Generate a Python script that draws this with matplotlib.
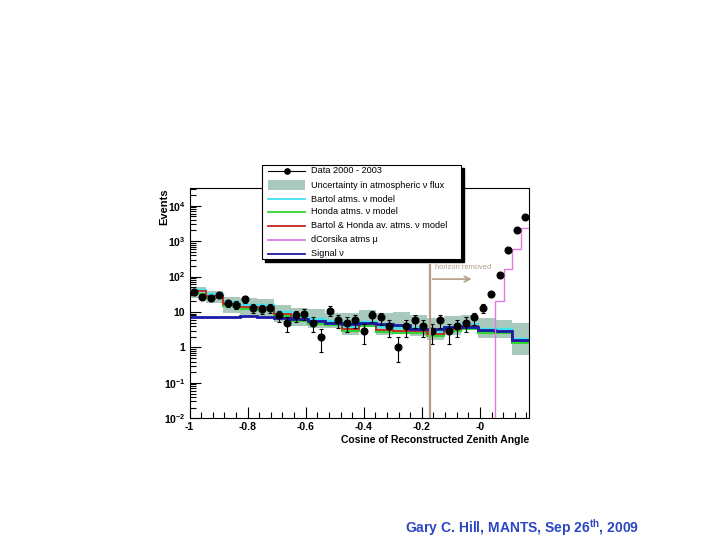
import numpy as np
import matplotlib
matplotlib.use("Agg")
import matplotlib.pyplot as plt
from matplotlib.patches import Rectangle
from matplotlib.lines import Line2D
from matplotlib.ticker import FixedLocator, FixedFormatter, LogLocator, MultipleLocator, NullFormatter

plt.rcParams["font.family"] = ["Liberation Sans", "DejaVu Sans"]
plt.rcParams["mathtext.fontset"] = "custom"
plt.rcParams["mathtext.rm"] = "Liberation Sans"
plt.rcParams["mathtext.bf"] = "Liberation Sans:bold"
plt.rcParams["mathtext.default"] = "bf"

# ---------------------------
# Data
# ---------------------------
X_MIN, X_MAX = -1.0, 0.17

# data: 40 bins in cos(zenith)
data_counts = [37, 27, 25, 30, 18, 16, 23, 13, 12, 13,
               8, 5, 8, 9, 5, 2, 11, 6, 5, 6,
               3, 8, 7, 4, 1, 4, 6, 4, 3, 6,
               3, 4, 5, 7, 13, 32, 112, 570, 2000, 4900]

# simulation: 20 bins
bartol_honda = [38, 28, 17, 14, 13.5, 9, 6.3, 5.4, 4.9, 3.3,
                4.6, 3.2, 3.0, 3.0, 2.45, 3.3, 3.9, 2.85, 2.85, 1.5]
bartol = [43, 32, 19.5, 16, 15.5, 10.3, 7.2, 6.2, 5.6, 3.8,
          5.3, 3.7, 3.5, 3.5, 2.8, 3.8, 4.5, 3.3, 3.3, 1.75]
honda = [33, 24.5, 14.8, 12.2, 11.7, 7.8, 5.5, 4.7, 4.2, 2.85,
         4.0, 2.75, 2.6, 2.6, 2.1, 2.85, 3.4, 2.5, 2.5, 1.3]
signal = [7.2, 7.2, 7.2, 7.7, 7.0, 6.9, 6.3, 5.4, 5.0, 4.6,
          4.8, 4.5, 4.2, 3.4, 3.3, 3.8, 3.8, 3.2, 3.0, 1.6]
band_lo = [25, 17.5, 9.5, 8, 7.7, 5.2, 4.0, 3.5, 3.5, 2.3,
           3.9, 2.3, 2.6, 2.05, 1.65, 2.3, 3.2, 1.85, 1.85, 0.63]
band_hi = [52, 39, 27, 25, 22.6, 15.3, 13, 12, 9.4, 9.4,
           11.6, 9.4, 9.7, 8.4, 6.8, 7.5, 8.4, 6.8, 6.05, 4.9]

# dCorsika muons: only the last four data bins are non-empty
corsika_mu = [0] * 36 + [21, 166, 606, 2400]

legend_labels = ["Data 2000 - 2003",
                 "Uncertainty in atmospheric ν flux",
                 "Bartol atms. ν model",
                 "Honda atms. ν model",
                 "Bartol & Honda av. atms. ν model",
                 "dCorsika atms μ",
                 "Signal ν"]

x_ticks = [-1, -0.8, -0.6, -0.4, -0.2, 0]
x_tick_labels = ["-1", "-0.8", "-0.6", "-0.4", "-0.2", "-0"]
y_ticks = [1e-2, 1e-1, 1, 10, 1e2, 1e3, 1e4]
y_tick_labels = ["$10^{-2}$", "$10^{-1}$", "1", "10", "$10^{2}$", "$10^{3}$", "$10^{4}$"]

HORIZON = -0.173

# colours
C_BAND = "#a9c9bc"
C_CYAN = "#3fe3f0"
C_GREEN = "#2fd62f"
C_RED = "#c0281e"
C_PINK = "#e27ae2"
C_BLUE = "#1a1aa6"
C_TAN = "#b59d85"

# ---------------------------
# Figure
# ---------------------------
W, H = 720, 540
fig = plt.figure(figsize=(7.2, 5.4), dpi=100)


def fx(x):
    return x / W


def fy(y):
    return 1 - y / H


ax = fig.add_axes([fx(189.5), fy(418.3), (529.3 - 189.5) / W, (418.3 - 188.3) / H])
ax.set_yscale("log")

d_edges = np.linspace(X_MIN, X_MAX, len(data_counts) + 1)
d_cent = 0.5 * (d_edges[:-1] + d_edges[1:])
m_edges = np.linspace(X_MIN, X_MAX, len(bartol_honda) + 1)

counts = np.array(data_counts, dtype=float)
err_hi = np.sqrt(counts)
err_lo = np.minimum(np.sqrt(counts), 0.62 * counts)

# uncertainty band
ax.stairs(band_hi, m_edges, baseline=band_lo, fill=True, color=C_BAND, lw=0, zorder=1)

ax.stairs(bartol, m_edges, baseline=None, color=C_CYAN, lw=1.7, zorder=2)
ax.stairs(honda, m_edges, baseline=None, color=C_GREEN, lw=1.5, zorder=2)
ax.stairs(bartol_honda, m_edges, baseline=None, color=C_RED, lw=1.3, zorder=3)
ax.stairs(signal, m_edges, baseline=None, color=C_BLUE, lw=2.0, zorder=3)

mu = np.array(corsika_mu, dtype=float)
mu = np.where(mu > 0, mu, 1e-6)
ax.stairs(mu, d_edges, baseline=None, color=C_PINK, lw=1.0, zorder=4)

ax.errorbar(d_cent, counts, yerr=[err_lo, err_hi], fmt="o", color="black",
            ms=4.8, elinewidth=0.8, capsize=1.5, capthick=0.8, zorder=5)

# horizon line and arrow
ax.plot([HORIZON, HORIZON], [1e-2, 215], color=C_TAN, lw=1.6, zorder=6)
ax.annotate("", xy=(-0.019, 85), xytext=(HORIZON, 85),
            arrowprops=dict(arrowstyle="->", color=C_TAN, lw=1.2), zorder=6)
ax.text(-0.155, 176, "horizon removed", color=C_TAN, fontsize=5.4, va="center")

ax.set_xlim(X_MIN, X_MAX)
ax.set_ylim(1e-2, 3.1e4)

ax.xaxis.set_major_locator(FixedLocator(x_ticks))
ax.xaxis.set_major_formatter(FixedFormatter(x_tick_labels))
ax.xaxis.set_minor_locator(MultipleLocator(0.04))
ax.yaxis.set_major_locator(FixedLocator(y_ticks))
ax.yaxis.set_major_formatter(FixedFormatter(y_tick_labels))
ax.yaxis.set_minor_locator(LogLocator(base=10, subs=np.arange(2, 10)))
ax.yaxis.set_minor_formatter(NullFormatter())

ax.tick_params(which="both", direction="in", top=False, right=False, width=0.8)
ax.tick_params(which="major", length=8, labelsize=7.5, pad=3)
ax.tick_params(which="minor", length=4)
for lab in ax.get_xticklabels() + ax.get_yticklabels():
    lab.set_fontweight("bold")

for sp in ax.spines.values():
    sp.set_linewidth(0.8)

ax.set_xlabel("Cosine of Reconstructed Zenith Angle", loc="right",
              fontsize=7.5, fontweight="bold", labelpad=2)
ax.set_ylabel("Events", loc="top", fontsize=8, fontweight="bold", labelpad=-4)

# ---------------------------
# Legend box (ROOT style, with shadow)
# ---------------------------
lx0, lx1, ly0, ly1 = 262, 461, 165, 259
shadow = Rectangle((fx(lx0 + 3), fy(ly1 + 3)), (lx1 - lx0) / W, (ly1 - ly0) / H,
                   transform=fig.transFigure, facecolor="black", edgecolor="black", zorder=9)
box = Rectangle((fx(lx0), fy(ly1)), (lx1 - lx0) / W, (ly1 - ly0) / H,
                transform=fig.transFigure, facecolor="white", edgecolor="black", lw=0.8, zorder=10)
fig.add_artist(shadow)
fig.add_artist(box)

entry_y = [170.7, 185, 199, 211.7, 226, 240, 254]
entry_colors = [None, None, C_CYAN, C_GREEN, C_RED, C_PINK, C_BLUE]
for i, (yy, lab) in enumerate(zip(entry_y, legend_labels)):
    if i == 0:
        fig.add_artist(Line2D([fx(268), fx(305)], [fy(yy), fy(yy)], color="black", lw=0.8,
                              zorder=11))
        fig.add_artist(Line2D([fx(286.5)], [fy(yy)], color="black", marker="o", ms=3.8,
                              lw=0, zorder=11))
    elif i == 1:
        fig.add_artist(Rectangle((fx(268), fy(yy + 5)), 37 / W, 10 / H,
                                 transform=fig.transFigure, facecolor=C_BAND, lw=0, zorder=11))
    else:
        fig.add_artist(Line2D([fx(268), fx(305)], [fy(yy), fy(yy)], color=entry_colors[i],
                              lw=1.3, zorder=11))
    fig.text(fx(311), fy(yy), lab, fontsize=6.6, va="center", ha="left", zorder=12)

# footer
fig.text(fx(522), fy(528), "Gary C. Hill, MANTS, Sep 26$^{th}$, 2009",
         color="#2b47c4", fontsize=10, fontweight="bold", ha="center", va="center")

fig.savefig("out.png", dpi=100)
